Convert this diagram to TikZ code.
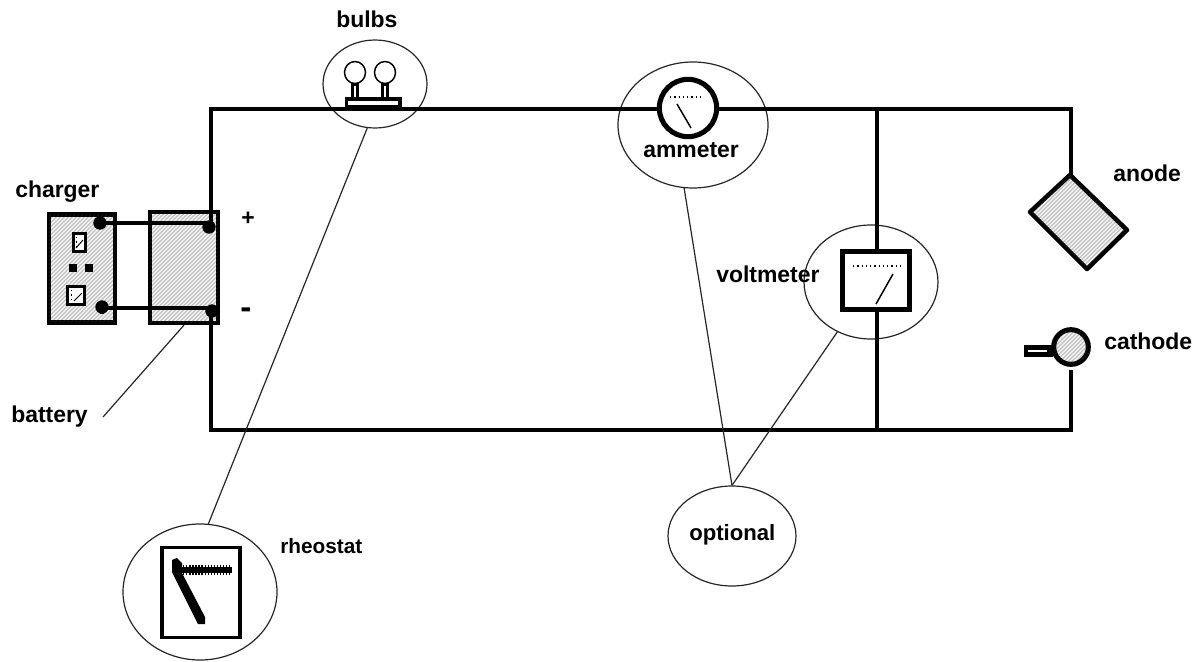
\documentclass[tikz,border=0pt]{standalone}
\usepackage{fontspec}
\setmainfont{Liberation Sans}
\usetikzlibrary{shapes.geometric,patterns.meta}
\tikzset{
  wire/.style={line width=3.7pt,line cap=butt},
  thin leader/.style={line width=0.9pt,black!85},
  ring/.style={draw=black!85,line width=0.9pt,ellipse,inner sep=0pt},
  lab/.style={font=\bfseries\fontsize{17.2}{19}\selectfont,inner sep=0pt,anchor=base west},
  stipple/.style={fill=black!6,postaction={pattern={Dots[radius=0.4pt,distance=2.1213pt,angle=45]},pattern color=black!75}},
  solid box/.style={draw,line width=3.8pt,fill=white,inner sep=0pt},
  dotted scale/.style={line width=0.9pt,dash pattern=on 1pt off 2.2pt},
  needle/.style={line width=1.1pt},
  pin/.style={circle,fill=black,inner sep=0pt,minimum size=10pt},
}
\begin{document}
\begin{tikzpicture}[x=0.75pt,y=-0.75pt]
\useasboundingbox (0,0) rectangle (1196,661);
% rings
\node[ring,minimum width=78pt,minimum height=66pt] (bulbring) at (375,84) {};
\node[ring,minimum width=112.5pt,minimum height=94.5pt] (ammring) at (693,125) {};
\node[ring,minimum width=100.5pt,minimum height=85.5pt] (voltring) at (871,282) {};
\node[ring,minimum width=96pt,minimum height=75pt] (optring) at (732,536) {};
\node[ring,minimum width=115.5pt,minimum height=102pt] (rheoring) at (200,592) {};
% corner points of the circuit
\coordinate (tl) at (211,109);
\coordinate (tr) at (1071,109);
\coordinate (bl) at (211,430);
\coordinate (br) at (1071,430);
\coordinate (tj) at (877,109);
\coordinate (bj) at (877,430);
\coordinate (pluspt) at (211,227);
\coordinate (minuspt) at (211,311);
% charger and battery
\node[draw,line width=3.4pt,stipple,minimum width=49.5pt,minimum height=81pt,inner sep=0pt] (charger) at (82,268.5) {};
\node[draw,line width=3.4pt,stipple,minimum width=51pt,minimum height=83pt,inner sep=0pt] (battery) at (184,267.5) {};
% main wires
\draw[wire] (pluspt) -- (tl) -- (tr) -- (1071,175);
\draw[wire] (minuspt) -- (bl) -- (br) -- (1071,370);
\draw[wire] (tj) -- (bj);
% charger parts
\node[pin] (cplus) at (100,223) {};
\node[pin] (cminus) at (102,307) {};
\node[pin] (bplus) at (209,227) {};
\node[pin] (bminus) at (212,311) {};
\draw[wire,line width=3.6pt] (cplus) -- (100,223) -- (210,223);
\draw[wire,line width=3.6pt] (cminus) -- (102,308) -- (211,308);
\node[draw,line width=2.6pt,fill=white,minimum width=9pt,minimum height=13.5pt,inner sep=0pt] (m1) at (79.5,242.5) {};
\draw[line width=0.7pt] (76,248) -- (83,240);
\draw[dotted scale,line width=0.7pt] (76,237) -- (76,247);
\node[draw,line width=2.6pt,fill=white,minimum width=12.5pt,minimum height=13.5pt,inner sep=0pt] (m2) at (76,295.5) {};
\draw[line width=0.7pt] (74,301) -- (82,293);
\draw[dotted scale,line width=0.7pt] (71,290) -- (71,301);
\node[rectangle,fill=black,inner sep=0pt,minimum size=5.5pt] (d1) at (73,268) {};
\node[rectangle,fill=black,inner sep=0pt,minimum size=5.5pt] (d2) at (89,268) {};
% bulbs
\draw[line width=1.1pt,fill=white] (355,72.5) ellipse [x radius=10.5,y radius=11];
\draw[line width=1.1pt,fill=white] (385,72.5) ellipse [x radius=10.5,y radius=11];
\fill (351,83) rectangle (359,98);
\fill (381,83) rectangle (389,98);
\fill[white] (354.2,86) rectangle (355.8,97);
\fill[white] (384.2,86) rectangle (385.8,97);
\fill (345,97) rectangle (402,110);
\fill[white] (348,100.5) rectangle (398,104.5);
% ammeter
\node[circle,draw,line width=3.8pt,fill=white,minimum size=43pt,inner sep=0pt] (ammeter) at (688,108) {};
\draw[dotted scale] (670,97) -- (704,97);
\draw[needle] (677,104) -- (691,128);
% voltmeter
\node[solid box,minimum width=50pt,minimum height=43.5pt] (voltmeter) at (876,280.5) {};
\draw[dotted scale] (853,266) -- (903,266);
\draw[needle] (876,304) -- (893,274);
% anode and cathode
\draw[line width=3.4pt,line join=round,stipple] (1070,175) -- (1030,212) -- (1087,269) -- (1127,230) -- cycle;
\node[circle,draw,line width=3.8pt,stipple,minimum size=26pt,inner sep=0pt] (cathode) at (1071,347) {};
\fill (1024,345) rectangle (1053,357);
\fill[white] (1028,349.5) rectangle (1047,352);
% rheostat
\node[draw,line width=2.8pt,fill=white,minimum width=59pt,minimum height=67.5pt,inner sep=0pt] (rheobox) at (201,592.5) {};
\fill (172,560) -- (177,558) -- (182,563) -- (182,573) -- (205,617) -- (205,624) -- (198,624) -- (172,572) -- cycle;
\draw[line width=5pt] (176,570) -- (232,570);
\draw[line width=7.5pt,dash pattern=on 1pt off 1.3pt] (180,570) -- (232,570);
% leaders
\coordinate (batend) at (103,417);
\draw[thin leader] (bulbring.260) -- (rheoring.83);
\draw[thin leader] (ammring.262) -- (optring.90);
\draw[thin leader] (voltring.236) -- (optring.90);
\draw[thin leader] (battery.south) -- (batend);
% labels
\node[lab] (lcharger) at (15,197) {charger};
\node[lab] (lbulbs) at (336,27) {bulbs};
\node[lab] (lammeter) at (643,157) {ammeter};
\node[lab] (lvoltmeter) at (716,282) {voltmeter};
\node[lab] (lanode) at (1113,181) {anode};
\node[lab] (lcathode) at (1104,349) {cathode};
\node[lab] (lbattery) at (11,422) {battery};
\node[lab,font=\bfseries\fontsize{15.6}{19}\selectfont] (lrheostat) at (280,553) {rheostat};
\node[lab,font=\bfseries\fontsize{16.6}{19}\selectfont] (loptional) at (689,540) {optional};
\node[lab] (lplus) at (241,225) {+};
\node[lab,font=\bfseries\fontsize{25}{26}\selectfont] (lminus) at (240,318) {-};
\end{tikzpicture}
\end{document}
